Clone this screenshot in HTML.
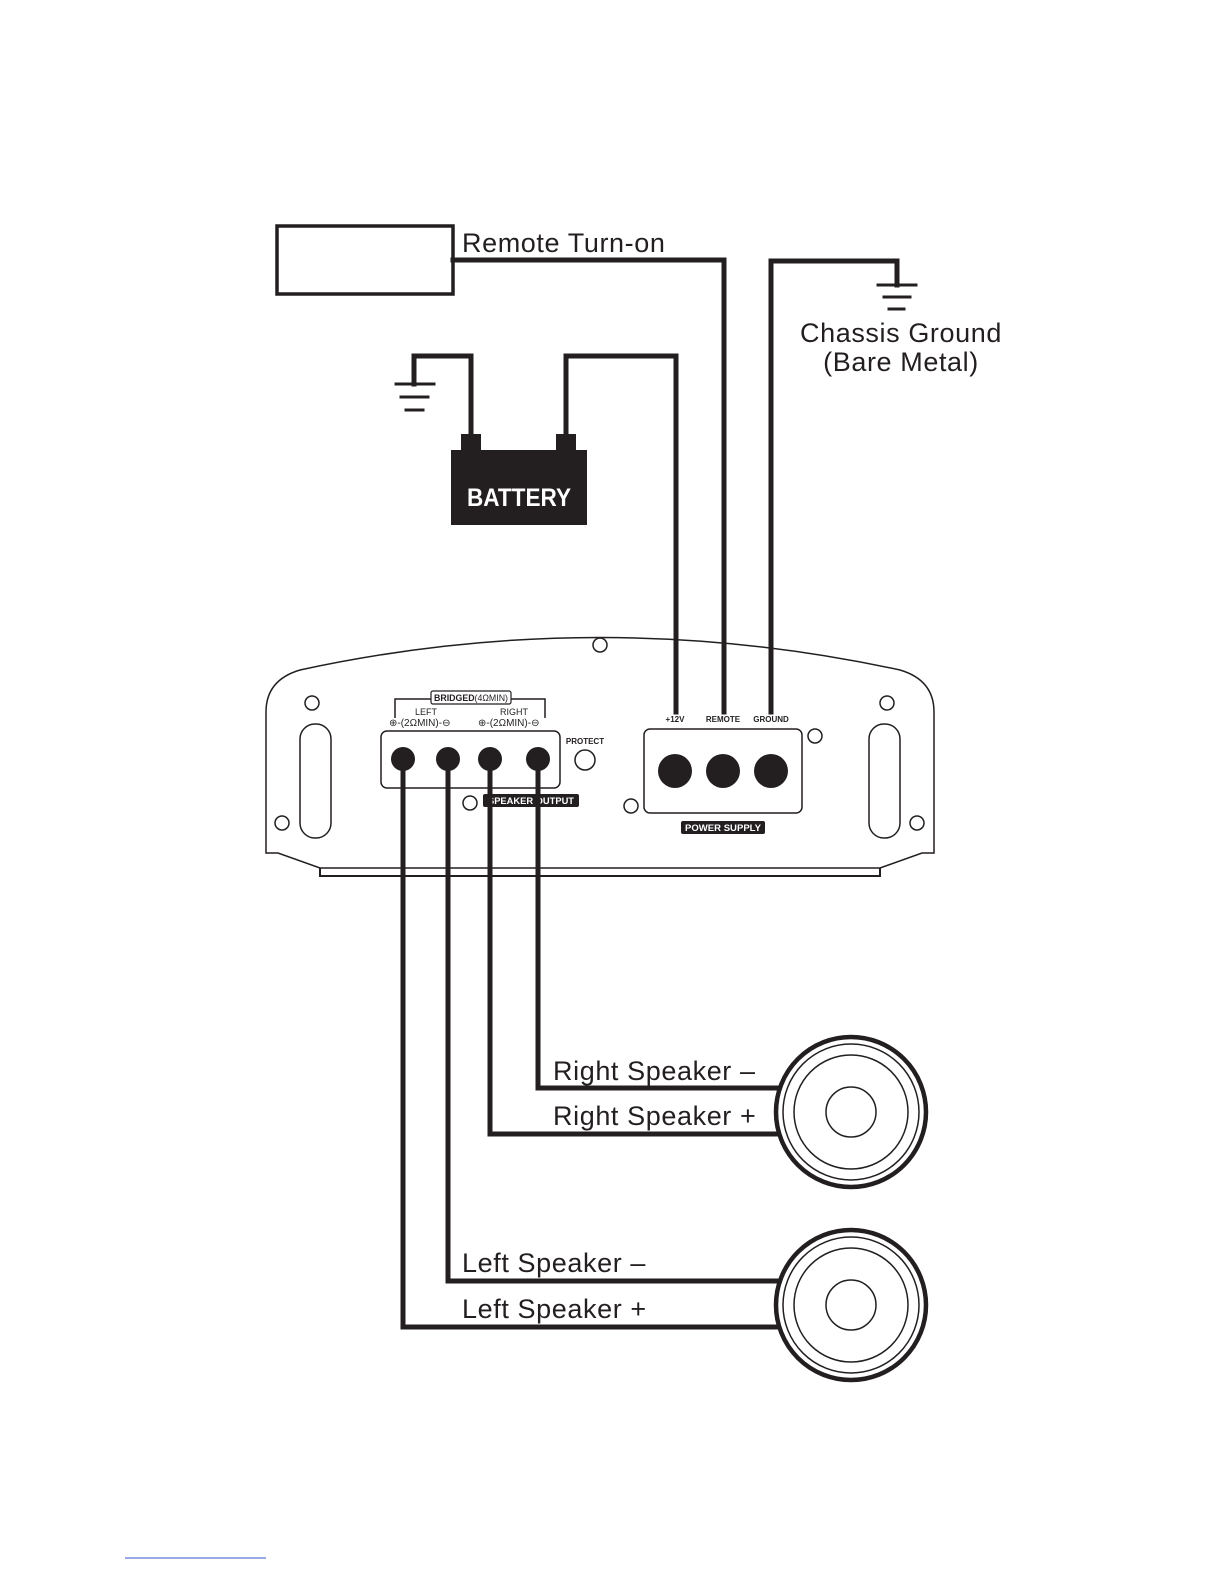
<!DOCTYPE html>
<html><head><style>
html,body{margin:0;padding:0;background:#fff}
svg{display:block}
</style></head><body>
<svg width="1224" height="1584" viewBox="0 0 1224 1584" xmlns="http://www.w3.org/2000/svg">
<g fill="none" stroke="#231f20" stroke-linecap="square">
<rect x="277" y="226" width="176" height="68" stroke-width="3.5"/>
<polyline points="453,260 724,260 724,712" stroke-width="5"/>
<polyline points="771,712 771,261 897,261 897,285" stroke-width="5"/>
<line x1="878" y1="285" x2="916" y2="285" stroke-width="3"/>
<line x1="884" y1="297" x2="910" y2="297" stroke-width="3"/>
<line x1="889" y1="309" x2="904" y2="309" stroke-width="3"/>
<polyline points="471,437 471,356 414,356 414,384" stroke-width="5"/>
<line x1="396" y1="384" x2="434" y2="384" stroke-width="3"/>
<line x1="401" y1="397" x2="428" y2="397" stroke-width="3"/>
<line x1="406" y1="410" x2="423" y2="410" stroke-width="3"/>
<polyline points="566,437 566,356 676,356 676,712" stroke-width="5"/>
</g>
<rect x="461" y="434" width="20" height="18" fill="#231f20"/>
<rect x="556" y="434" width="20" height="18" fill="#231f20"/>
<rect x="451" y="450" width="136" height="75" fill="#231f20"/>
<text x="467" y="506" font-family="Liberation Sans, sans-serif" font-weight="bold" font-size="25" fill="#fff" textLength="104" lengthAdjust="spacingAndGlyphs">BATTERY</text>

<g font-family="Liberation Sans, DejaVu Sans, sans-serif" font-size="27" fill="#231f20" letter-spacing="0.6">
<text x="462" y="252">Remote Turn-on</text>
<text x="901" y="342" text-anchor="middle">Chassis Ground</text>
<text x="901" y="371" text-anchor="middle">(Bare Metal)</text>
<text x="553" y="1080">Right Speaker –</text>
<text x="553" y="1125">Right Speaker +</text>
<text x="462" y="1272">Left Speaker –</text>
<text x="462" y="1318">Left Speaker +</text>
</g>

<g fill="none" stroke="#231f20" stroke-width="1.5">
<path d="M266,712 Q266,680 300,670 Q600,605 900,670 Q934,680 934,712 L934,853 L922,853 L880,868 L320,868 L278,853 L266,853 Z"/>
<path d="M320,868 L320,876 L880,876 L880,868" stroke-width="2"/>
<circle cx="600" cy="645" r="7"/>
<circle cx="312" cy="703" r="7"/>
<circle cx="887" cy="703" r="7"/>
<circle cx="282" cy="823" r="7"/>
<circle cx="917" cy="823" r="7"/>
<circle cx="470" cy="803" r="7"/>
<circle cx="631" cy="806" r="7"/>
<circle cx="815" cy="736" r="7"/>
<circle cx="585" cy="760" r="10"/>
<rect x="300" y="724" width="31" height="114" rx="15"/>
<rect x="869" y="724" width="31" height="114" rx="15"/>
<rect x="381" y="731" width="179" height="57" rx="6"/>
<rect x="644" y="729" width="158" height="84" rx="6"/>
<polyline points="395,718 395,699 545,699 545,718"/>
</g>
<rect x="431" y="691" width="80" height="13" rx="2" fill="#fff" stroke="#231f20" stroke-width="1.2"/>
<g font-family="Liberation Sans, sans-serif" fill="#231f20">
<text x="434" y="701" font-size="9" font-weight="bold" textLength="74" lengthAdjust="spacingAndGlyphs">BRIDGED<tspan font-weight="normal">(4ΩMIN)</tspan></text>
<text x="426" y="715" font-size="9" text-anchor="middle">LEFT</text>
<text x="514" y="715" font-size="9" text-anchor="middle">RIGHT</text>
<text x="389" y="726" font-size="10">⊕-(2ΩMIN)-⊖</text>
<text x="478" y="726" font-size="10">⊕-(2ΩMIN)-⊖</text>
<text x="585" y="744" font-size="8" font-weight="bold" text-anchor="middle">PROTECT</text>
<text x="675" y="722" font-size="8" font-weight="bold" text-anchor="middle">+12V</text>
<text x="723" y="722" font-size="8" font-weight="bold" text-anchor="middle">REMOTE</text>
<text x="771" y="722" font-size="8" font-weight="bold" text-anchor="middle">GROUND</text>
</g>
<rect x="483" y="794" width="96" height="13" rx="2" fill="#231f20"/>
<text x="531" y="804" font-family="Liberation Sans, sans-serif" font-size="9" font-weight="bold" fill="#fff" text-anchor="middle" textLength="86" lengthAdjust="spacingAndGlyphs">SPEAKER OUTPUT</text>
<rect x="681" y="821" width="84" height="13" rx="2" fill="#231f20"/>
<text x="723" y="831" font-family="Liberation Sans, sans-serif" font-size="9" font-weight="bold" fill="#fff" text-anchor="middle" textLength="76" lengthAdjust="spacingAndGlyphs">POWER SUPPLY</text>

<g fill="#231f20">
<circle cx="403" cy="759" r="12"/><circle cx="448" cy="759" r="12"/>
<circle cx="490" cy="759" r="12"/><circle cx="538" cy="759" r="12"/>
<circle cx="675" cy="771" r="17"/><circle cx="723" cy="771" r="17"/><circle cx="771" cy="771" r="17"/>
</g>

<g fill="none" stroke="#231f20" stroke-width="5">
<polyline points="538,760 538,1088 780,1088"/>
<polyline points="490,760 490,1134 780,1134"/>
<polyline points="448,760 448,1281 780,1281"/>
<polyline points="403,760 403,1327 780,1327"/>
</g>

<g fill="#fff" stroke="#231f20">
<circle cx="851" cy="1112" r="75" stroke-width="4.5"/>
<circle cx="851" cy="1112" r="68" stroke-width="1.5"/>
<circle cx="851" cy="1112" r="57" stroke-width="1.5"/>
<circle cx="851" cy="1112" r="25" stroke-width="1.5"/>
<circle cx="851" cy="1305" r="75" stroke-width="4.5"/>
<circle cx="851" cy="1305" r="68" stroke-width="1.5"/>
<circle cx="851" cy="1305" r="57" stroke-width="1.5"/>
<circle cx="851" cy="1305" r="25" stroke-width="1.5"/>
</g>

<line x1="125" y1="1558" x2="266" y2="1558" stroke="#3355cc" stroke-width="1"/>
</svg>
</body></html>
